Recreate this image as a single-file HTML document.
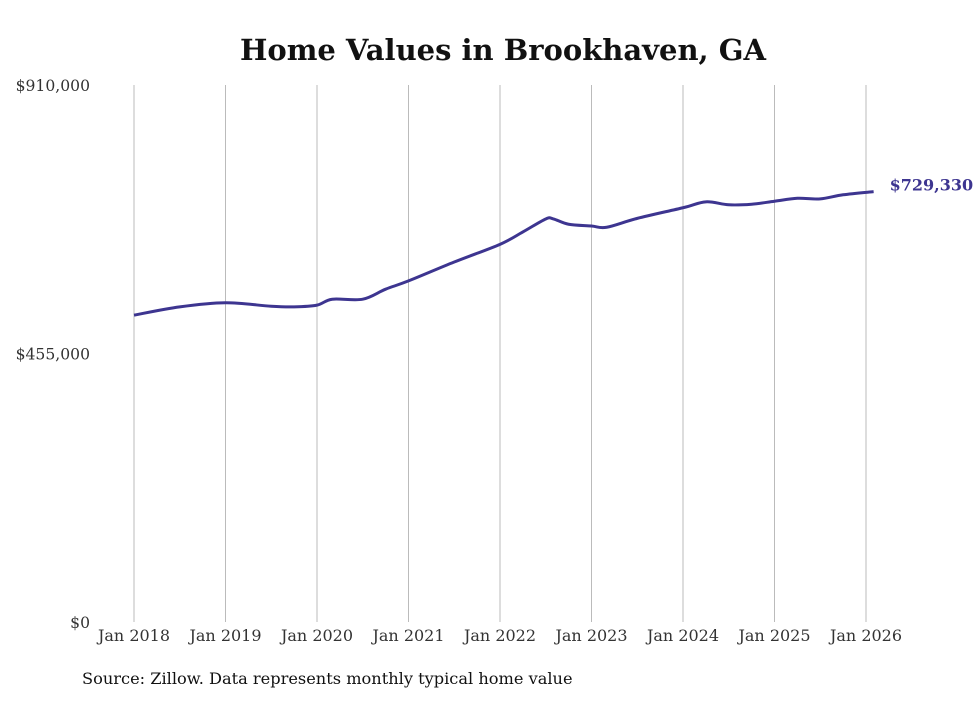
<!DOCTYPE html>
<html><head><meta charset="utf-8"><style>
body{margin:0;background:#fff;width:980px;height:699px;overflow:hidden;font-family:"DejaVu Serif",serif}
</style></head><body>
<svg id="chart" width="980" height="699" xmlns="http://www.w3.org/2000/svg" font-family="DejaVu Serif, serif">
<text x="503" y="60" text-anchor="middle" font-size="29" font-weight="bold" fill="#111">Home Values in Brookhaven, GA</text>
<g id="grid"></g>
<g id="yaxis"></g>
<g id="xaxis"></g>
<path id="line" fill="none" stroke="#3d3590" stroke-width="3"/>
<text id="endlabel" font-size="16" font-weight="bold" fill="#3d3590"></text>
<text x="82" y="684" font-size="16.2" fill="#111">Source: Zillow. Data represents monthly typical home value</text>
</svg>
<script>
const months=[0,6,12,18,21,24,26,30,33,36,42,48,51,54,55,57,60,62,66,72,75,78,81,84,87,90,93,97];
const values=[520000,534000,541000,535000,534000,537000,547000,547000,564000,578000,610000,640000,661000,683000,683000,674000,671000,669000,684000,702000,712000,707000,708000,713000,718000,717000,724000,729330];
const xTickLabels=["Jan 2018","Jan 2019","Jan 2020","Jan 2021","Jan 2022","Jan 2023","Jan 2024","Jan 2025","Jan 2026"];
const yTicks=[0,455000,910000];
const yTickLabels=["$0","$455,000","$910,000"];
const lastLabel="$729,330";
const x=m=>134+m*(732/96);
const y=v=>622-v/910000*537;
const ns="http://www.w3.org/2000/svg";
const grid=document.getElementById('grid'),ya=document.getElementById('yaxis'),xa=document.getElementById('xaxis');
xTickLabels.forEach((l,i)=>{
 const gx=x(i*12);
 const ln=document.createElementNS(ns,'line');
 
 
 ln.setAttribute('x1',gx);ln.setAttribute('x2',gx);ln.setAttribute('y1',85);ln.setAttribute('y2',622);
 ln.setAttribute('stroke','#bbb');ln.setAttribute('stroke-width','1');grid.appendChild(ln);
 const t=document.createElementNS(ns,'text');
 
 
 t.setAttribute('x',gx);t.setAttribute('y',641);t.setAttribute('text-anchor','middle');t.setAttribute('font-size','16');t.setAttribute('fill','#333');
 t.textContent=l;xa.appendChild(t);
});
yTicks.forEach((v,i)=>{
 const t=document.createElementNS(ns,'text');
 
 
 t.setAttribute('x',90);t.setAttribute('y',y(v)+6);t.setAttribute('text-anchor','end');t.setAttribute('font-size','15.6');t.setAttribute('fill','#333');
 t.textContent=yTickLabels[i];ya.appendChild(t);
});
const pts=months.map((m,i)=>[x(m),y(values[i])]);
let d=`M${pts[0][0]},${pts[0][1]}`;
for(let i=0;i<pts.length-1;i++){
 const p0=pts[Math.max(0,i-1)],p1=pts[i],p2=pts[i+1],p3=pts[Math.min(pts.length-1,i+2)];
 const k=1/6;
 d+=` C${p1[0]+(p2[0]-p0[0])*k},${p1[1]+(p2[1]-p0[1])*k} ${p2[0]-(p3[0]-p1[0])*k},${p2[1]-(p3[1]-p1[1])*k} ${p2[0]},${p2[1]}`;
}
document.getElementById('line').setAttribute('d',d);
const el=document.getElementById('endlabel');const lp=pts[pts.length-1];
el.setAttribute('x',lp[0]+16);el.setAttribute('y',lp[1]-1);el.textContent=lastLabel;
</script>
</body></html>
